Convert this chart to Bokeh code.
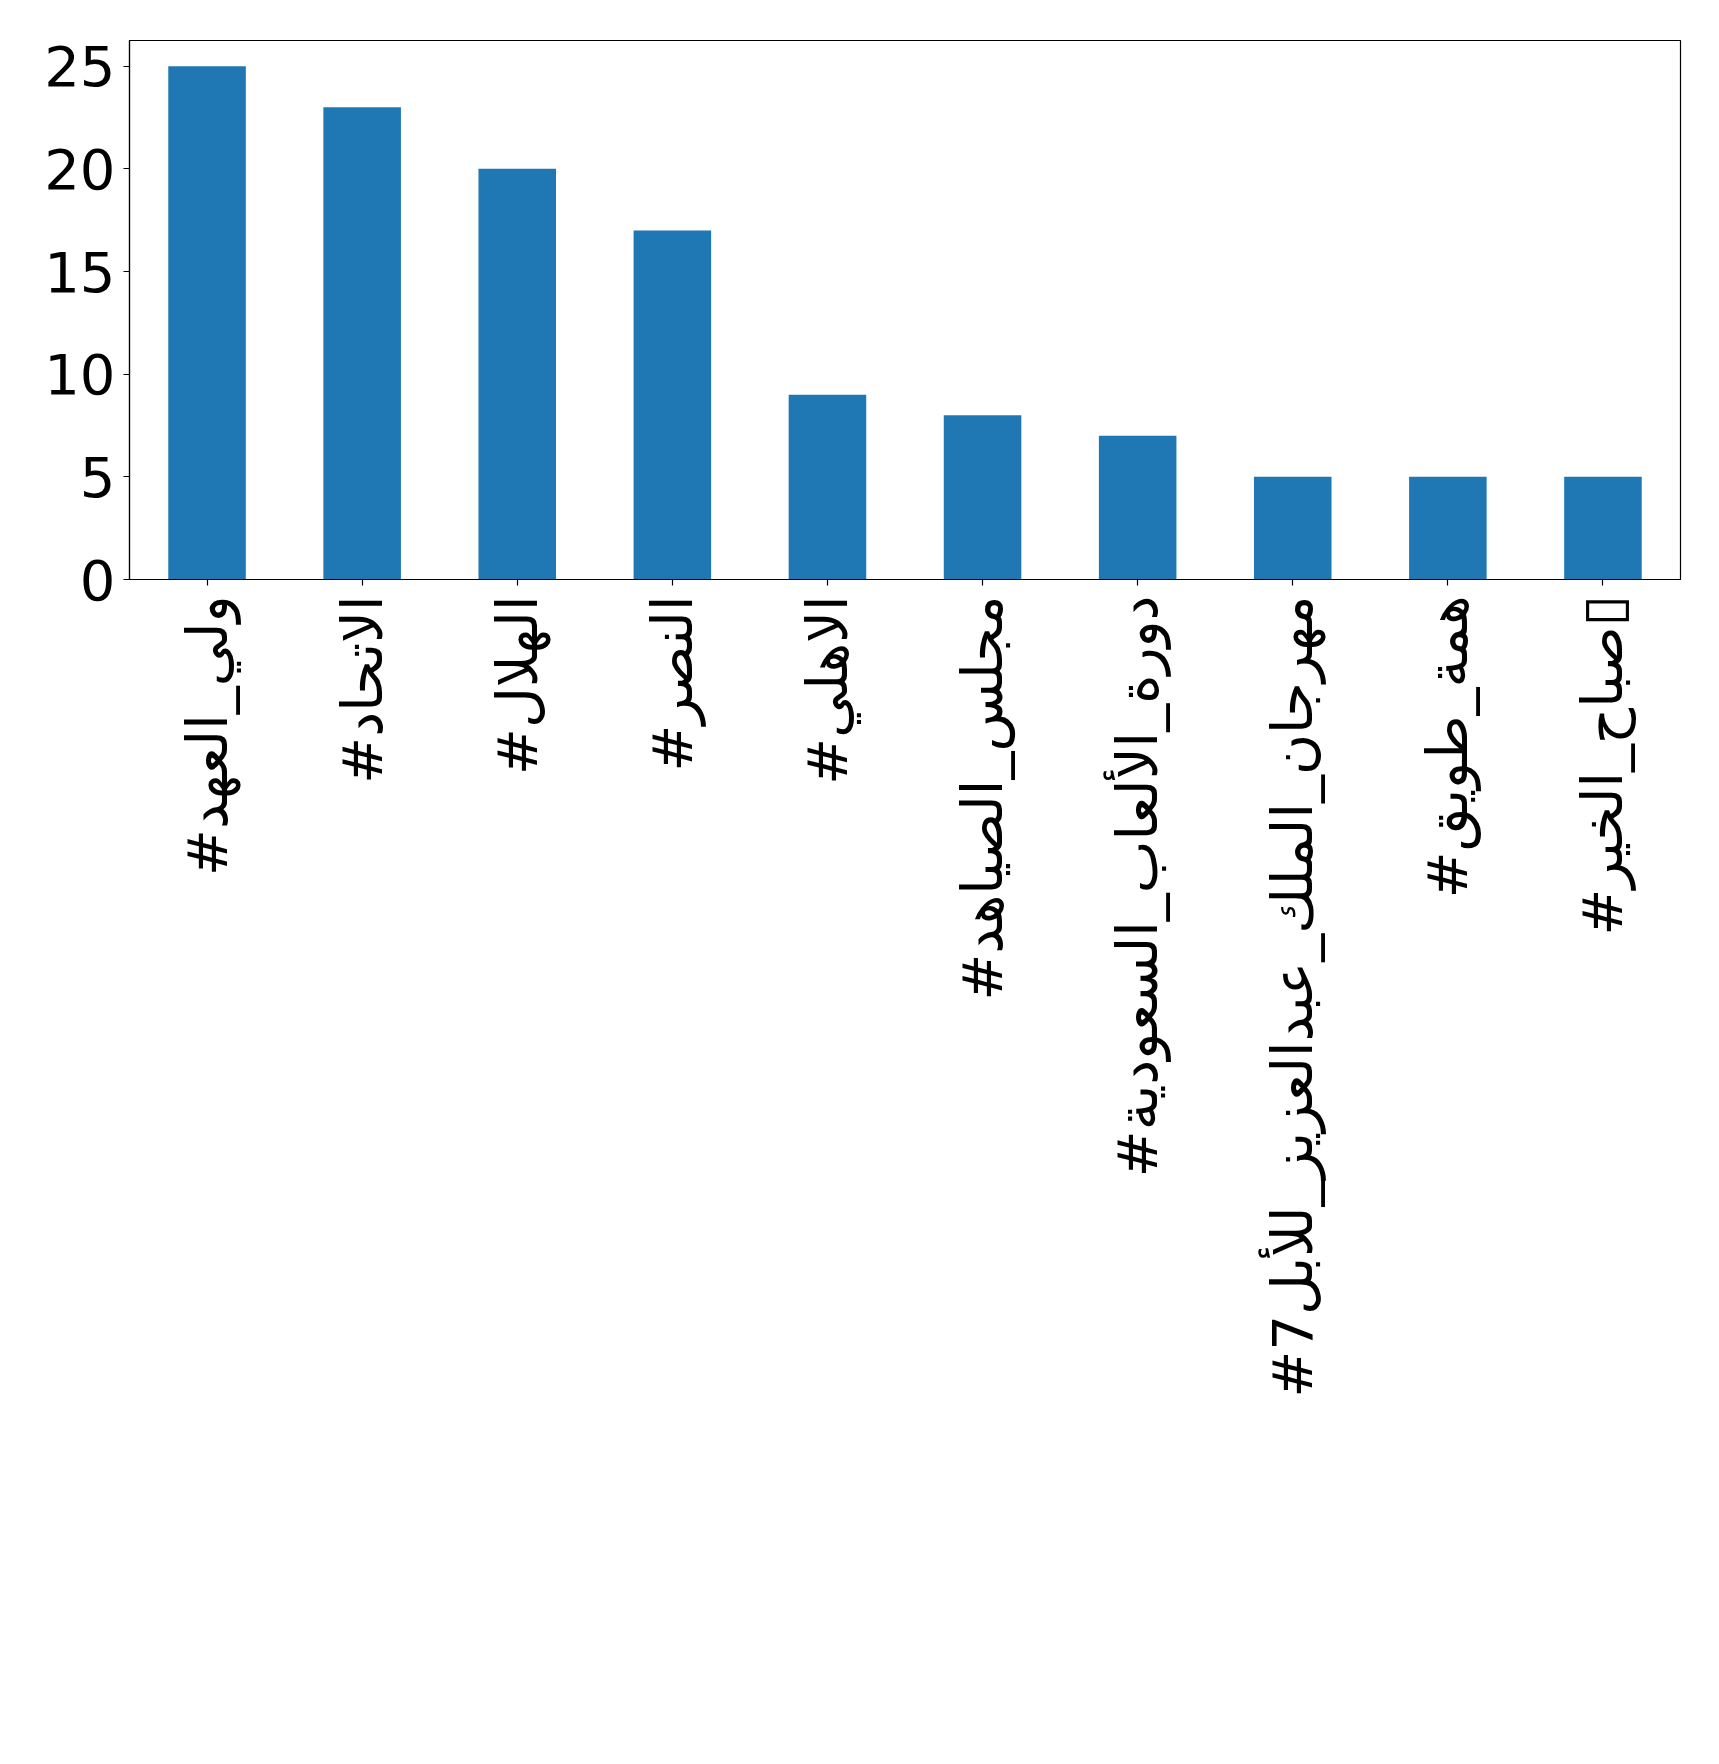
import math
from bokeh.plotting import figure
from bokeh.models import Range1d, FixedTicker, FactorRange
from bokeh.embed import file_html
from bokeh.resources import INLINE

hashtags = [
    "#ولي_العهد",
    "#الاتحاد",
    "#الهلال",
    "#النصر",
    "#الاهلي",
    "#مجلس_الصياهد",
    "#دورة_الألعاب_السعودية",
    "#مهرجان_الملك_عبدالعزيز_للأبل7",
    "#همة_طويق",
    "#صباح_الخير▯",
]
counts = [25, 23, 20, 17, 9, 8, 7, 5, 5, 5]
y_ticks = [0, 5, 10, 15, 20, 25]

FONT = "DejaVu Sans"
FS = "56px"

p = figure(
    x_range=FactorRange(*hashtags),
    y_range=Range1d(0, 26.25),
    width=1703,
    height=1748,
    output_backend="svg",
    toolbar_location=None,
    min_border_left=129,
    min_border_top=40,
    min_border_right=23,
    min_border_bottom=1169,
)

p.vbar(x=hashtags, top=counts, width=0.5, color="#1f77b4", line_color=None)

p.xgrid.grid_line_color = None
p.ygrid.grid_line_color = None
p.outline_line_color = "black"
p.outline_line_width = 1.2
p.background_fill_color = "white"
p.border_fill_color = "white"

p.yaxis.ticker = FixedTicker(ticks=y_ticks)
for ax in (p.xaxis[0], p.yaxis[0]):
    ax.axis_line_color = "black"
    ax.axis_line_width = 1.2
    ax.major_tick_line_color = "black"
    ax.major_tick_line_width = 1.2
    ax.major_tick_out = 6
    ax.major_tick_in = 0
    ax.minor_tick_line_color = None
    ax.major_label_text_font = FONT
    ax.major_label_text_font_size = FS
    ax.major_label_text_color = "black"

p.yaxis.major_label_standoff = 8
p.xaxis.major_label_standoff = 10
p.xaxis.major_label_orientation = math.pi / 2

open("out.html", "w").write(file_html(p, INLINE))
